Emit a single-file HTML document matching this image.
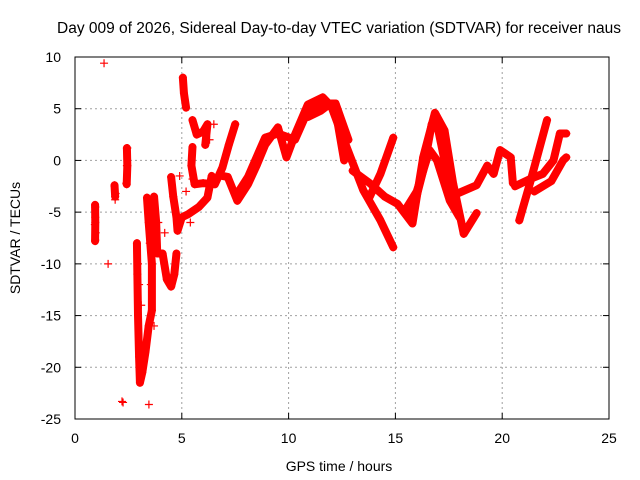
<!DOCTYPE html>
<html><head><meta charset="utf-8"><style>
body{margin:0;background:#fff}
svg{display:block;font-family:"Liberation Sans",sans-serif}
</style></head><body>
<svg id="chart" width="640" height="480" viewBox="0 0 640 480">
<text x="339" y="33" font-size="15.5" text-anchor="middle">Day 009 of 2026, Sidereal Day-to-day VTEC variation (SDTVAR) for receiver naus</text>
<g id="grid"></g>
<g id="marks"></g>
<rect x="75" y="57" width="534" height="362" fill="none" stroke="#000" stroke-width="1"/>
<g id="axes"></g>
<text x="339" y="471" font-size="14" text-anchor="middle">GPS time / hours</text>
<text x="20" y="238" font-size="14" text-anchor="middle" transform="rotate(-90 20 238)">SDTVAR / TECUs</text>
</svg>
<script>
const xTicks=[0,5,10,15,20,25];
const yTicks=[10,5,0,-5,-10,-15,-20,-25];
// isolated points [hour, TECU]
const scatterPts=[[0.95,-4.5],[0.95,-5.5],[0.93,-6.2],[0.97,-7.0],[0.95,-7.7],[1.36,9.4],[1.55,-10],[2.2,-23.3],[2.25,-23.4],[3.46,-23.6],
[1.85,-2.5],[1.9,-3.2],[1.88,-3.8],[2.45,1.2],[2.43,-0.5],[2.4,-2.2],[4.9,-1.5],[5.5,-1.8],[3.9,-6],[4.0,-9],
[2.95,-10],[3.0,-12],[3.1,-14],[3.5,-8],[3.55,-12],[3.7,-16],[4.2,-7],[5.2,-3],[5.4,-6],[6.3,2],[6.5,3.5]];
// tracks: each list of [hour, TECU]
const trackA=[[0.94,-4.3],[0.95,-6],[0.94,-7.8]];
const trackB=[[1.85,-2.4],[1.88,-3.5]];
const trackC=[[2.43,1.2],[2.45,-0.5],[2.42,-2.3]];
const trackD=[[2.9,-8],[2.92,-11],[2.95,-15],[3.0,-19],[3.04,-21.5],[3.15,-20.5],[3.3,-18.5],[3.45,-16],[3.6,-14.5],[3.6,-10],[3.45,-6],[3.37,-3.6]];
const trackE=[[3.7,-3.5],[3.8,-6],[3.85,-9],[4.1,-9],[4.3,-11.5],[4.5,-12.2],[4.65,-11],[4.75,-9]];
const trackF=[[4.5,-1.6],[4.6,-3.5],[4.75,-5.5],[4.8,-6.8],[5.0,-5.5],[5.3,-5.2],[5.8,-4.5],[6.2,-3.6],[6.4,-1.5]];
const trackG=[[5.05,8],[5.1,6.5],[5.2,5.1]];
const trackH=[[5.5,3.9],[5.7,2.5],[6.0,2.8],[6.2,3.5],[6.1,1.5]];
const trackI=[[5.5,1.3],[5.45,-0.5],[5.6,-2.3],[6.0,-2.2],[6.55,-2.3],[6.9,-0.7],[7.2,1.5],[7.5,3.5]];
const trackJ=[[6.9,-1.5],[7.15,-1.6],[7.6,-3.9],[8.1,-2.3],[8.5,-0.5],[8.9,1.5],[9.5,3.2],[9.9,0.3],[10.3,2.5],[10.9,5.4],[11.6,6.1],[12.2,4.8],[12.6,0]];
const trackJ2=[[7.6,-3.2],[8.1,-1.6],[8.9,2.2],[9.5,2.6],[10.3,2.0],[10.9,4.8],[11.6,5.5],[12.2,5.5],[12.8,2]];
const trackK=[[10.9,4.2],[11.5,4.8],[11.95,5.5],[12.4,3],[12.9,0.3],[13.5,-2.9],[14.3,-5.8],[14.9,-8.4]];
const trackL=[[13.0,-1],[13.8,-2.2],[14.5,-3.5],[15.1,-4.2],[15.8,-6.1],[16.3,0.3],[16.85,4.6],[17.3,2.9],[17.7,-2.2],[18.2,-7.1],[18.8,-5.1]];
const trackM=[[13.8,-3.5],[14.3,-1.3],[14.9,2.2]];
const trackN=[[15.4,-5],[16.0,-3],[16.6,1],[16.95,0],[17.55,-3.9],[18.0,-5.5]];
const trackN2=[[15.8,-5],[16.3,-1],[16.7,3.5],[17.0,3],[17.4,-1],[17.9,-5]];
const trackO=[[17.9,-3.2],[18.8,-2.4],[19.3,-0.5],[19.6,-1.3],[19.9,1],[20.4,0.3],[20.5,-2.2]];
const trackP=[[20.8,-5.8],[21.3,-2.2],[22.1,3.9]];
const trackQ=[[20.6,-2.5],[21.3,-1.8],[21.9,-1.3],[22.4,0],[22.7,2.6],[23.0,2.6]];
const trackR=[[21.5,-3],[22.3,-2],[22.85,0],[23.0,0.3]];
const tracks=[trackA,trackB,trackC,trackD,trackE,trackF,trackG,trackH,trackI,trackJ,trackJ2,trackK,trackL,trackM,trackN,trackN2,trackO,trackP,trackQ,trackR];

const NS='http://www.w3.org/2000/svg';
const X0=75,X1=609,Y0=419,Y1=57;
function sx(v){return X0+(v-0)/(25-0)*(X1-X0);}
function sy(v){return Y0-(v-(-25))/(10-(-25))*(Y0-Y1);}
function mk(tag,attrs,parent){const e=document.createElementNS(NS,tag);for(const k in attrs)e.setAttribute(k,attrs[k]);parent.appendChild(e);return e;}
const grid=document.getElementById('grid'),axes=document.getElementById('axes'),marks=document.getElementById('marks');
xTicks.forEach(t=>{const x=sx(t);
 if(t>0&&t<25){const g=mk('line',{x1:x,x2:x,y1:Y1,y2:Y0,stroke:'#a0a0a0','stroke-dasharray':'2,3'},grid);
 
 }
 mk('line',{x1:x,x2:x,y1:Y0,y2:Y0-6,stroke:'#000'},axes);
 mk('line',{x1:x,x2:x,y1:Y1,y2:Y1+6,stroke:'#000'},axes);
 const l=mk('text',{x:x,y:443,'font-size':14,'text-anchor':'middle'},axes);l.textContent=t;
 
 });
yTicks.forEach(t=>{const y=sy(t);
 if(t>-25&&t<10){const g=mk('line',{x1:X0,x2:X1,y1:y,y2:y,stroke:'#a0a0a0','stroke-dasharray':'2,3'},grid);
 
 }
 mk('line',{x1:X0,x2:X0+6,y1:y,y2:y,stroke:'#000'},axes);
 mk('line',{x1:X1,x2:X1-6,y1:y,y2:y,stroke:'#000'},axes);
 const l=mk('text',{x:61,y:y+5,'font-size':14,'text-anchor':'end'},axes);l.textContent=t;
 
 });
function plus(h,v){const x=sx(h),y=sy(v);
 const p=mk('path',{d:`M${x-4},${y}h8M${x},${y-4}v8`,stroke:'#f00','stroke-width':1.2,fill:'none'},marks);
 
 }
tracks.forEach(tr=>{
 const pl=mk('polyline',{points:tr.map(p=>sx(p[0])+','+sy(p[1])).join(' '),fill:'none',stroke:'#f00','stroke-width':8,'stroke-linejoin':'round','stroke-linecap':'round'},marks);
 
 
 tr.forEach(p=>plus(p[0],p[1]));});
scatterPts.forEach(p=>plus(p[0],p[1]));
</script>
</body></html>
